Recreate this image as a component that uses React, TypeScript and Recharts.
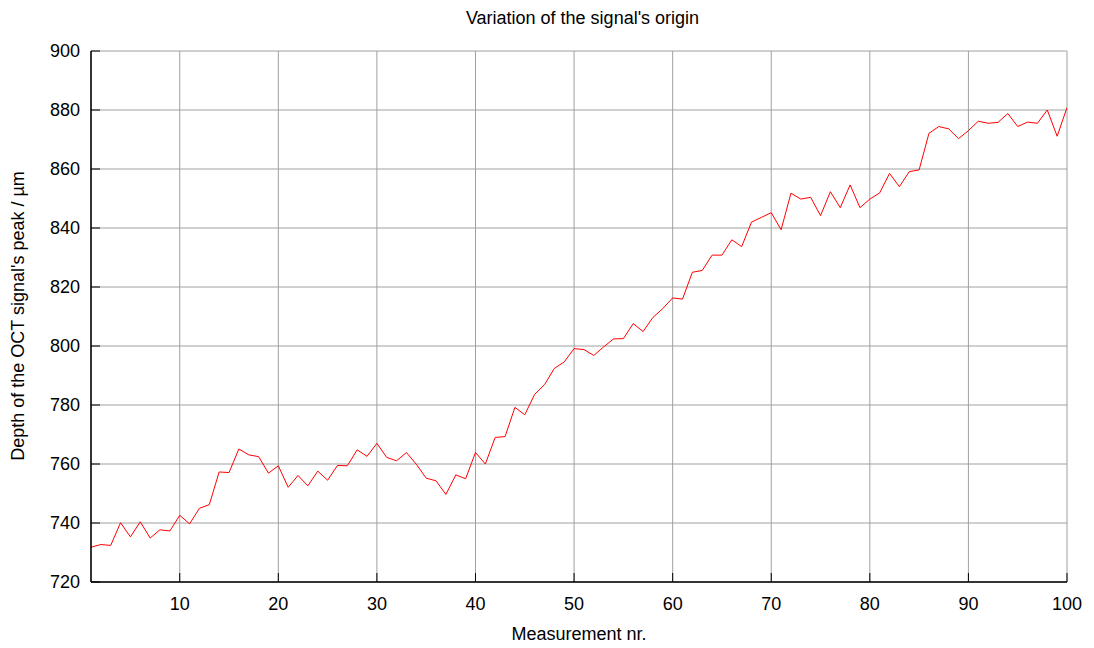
import React from 'react';
import { LineChart, Line, XAxis, YAxis, CartesianGrid } from 'recharts';

const measurements: number[] = Array.from({ length: 100 }, (_, i) => i + 1);
const depths: number[] = [
  731.8, 732.7, 732.4, 740.1, 735.3, 740.4, 734.9, 737.7, 737.3, 742.6,
  739.7, 745.0, 746.2, 757.3, 757.1, 765.1, 763.1, 762.5, 756.9, 759.4,
  752.1, 756.1, 752.6, 757.6, 754.5, 759.5, 759.4, 764.8, 762.6, 767.0,
  762.2, 761.1, 763.9, 759.9, 755.2, 754.3, 749.7, 756.3, 755.0, 763.9,
  760.0, 769.0, 769.3, 779.2, 776.7, 783.6, 786.9, 792.4, 794.6, 799.1,
  798.8, 796.8, 799.7, 802.4, 802.5, 807.6, 804.9, 809.7, 812.7, 816.3,
  815.9, 825.0, 825.6, 830.8, 830.8, 836.0, 833.7, 842.0, 843.6, 845.2,
  839.4, 851.8, 849.8, 850.4, 844.2, 852.3, 846.9, 854.6, 846.9, 849.8,
  851.9, 858.5, 854.0, 859.1, 859.7, 872.1, 874.4, 873.6, 870.3, 873.0,
  876.2, 875.5, 875.8, 878.8, 874.4, 875.9, 875.5, 880.0, 871.1, 880.8,
];
const xTicks: number[] = [10, 20, 30, 40, 50, 60, 70, 80, 90, 100];
const yTicks: number[] = [720, 740, 760, 780, 800, 820, 840, 860, 880, 900];

const titleText = "Variation of the signal's origin";
const xLabelText = 'Measurement nr.';
const yLabelText = "Depth of the OCT signal's peak / µm";

const data = measurements.map((m, i) => ({ x: m, y: depths[i] }));

const FONT = '"Liberation Sans", Arial, sans-serif';
const FS = 18;

export default function App() {
  return (
    <div style={{ position: 'absolute', left: 0, top: 0, width: 1094, height: 648, background: '#fff', fontFamily: FONT }}>
      <LineChart
        width={1094}
        height={648}
        data={data}
        margin={{ top: 51, right: 27, left: 0, bottom: 0 }}
      >
        <CartesianGrid stroke="#a0a0a0" strokeWidth={1} />
        <XAxis
          dataKey="x"
          type="number"
          domain={[1, 100]}
          ticks={xTicks}
          allowDataOverflow
          height={66}
          tickSize={-9}
          tickMargin={24}
          axisLine={{ stroke: '#000', strokeWidth: 1.5 }}
          tickLine={{ stroke: '#000' }}
          tick={{ fill: '#000', fontSize: FS, fontFamily: FONT }}
        />
        <XAxis
          xAxisId="top"
          orientation="top"
          type="number"
          domain={[1, 100]}
          ticks={xTicks}
          allowDataOverflow
          height={0}
          tickSize={-9}
          axisLine={{ stroke: '#000', strokeWidth: 1.5 }}
          tickLine={{ stroke: '#000' }}
          tick={false}
        />
        <YAxis
          type="number"
          domain={[720, 900]}
          ticks={yTicks}
          allowDataOverflow
          width={91}
          tickSize={-9}
          tickMargin={20}
          axisLine={{ stroke: '#000', strokeWidth: 1.5 }}
          tickLine={{ stroke: '#000' }}
          tick={{ fill: '#000', fontSize: FS, fontFamily: FONT }}
        />
        <YAxis
          yAxisId="right"
          orientation="right"
          type="number"
          domain={[720, 900]}
          ticks={yTicks}
          allowDataOverflow
          width={0}
          tickSize={-9}
          axisLine={{ stroke: '#000', strokeWidth: 1.5 }}
          tickLine={{ stroke: '#000' }}
          tick={false}
        />
        <Line
          type="linear"
          dataKey="y"
          stroke="#ff0000"
          strokeWidth={1}
          dot={false}
          isAnimationActive={false}
        />
      </LineChart>
      <div style={{ position: 'absolute', left: 0, width: 1165, top: 8, textAlign: 'center', fontSize: FS, lineHeight: '20px', color: '#000' }}>
        {titleText}
      </div>
      <div style={{ position: 'absolute', left: 0, width: 1158, top: 624, textAlign: 'center', fontSize: FS, lineHeight: '20px', color: '#000' }}>
        {xLabelText}
      </div>
      <div
        style={{
          position: 'absolute',
          left: 18,
          top: 316,
          width: 400,
          marginLeft: -200,
          marginTop: -10,
          textAlign: 'center',
          fontSize: FS,
          lineHeight: '20px',
          color: '#000',
          transform: 'rotate(-90deg)',
          whiteSpace: 'nowrap',
        }}
      >
        {yLabelText}
      </div>
    </div>
  );
}
